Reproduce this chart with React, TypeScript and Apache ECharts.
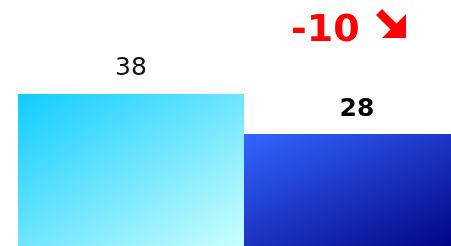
import React, { useEffect, useRef } from "react";
import * as echarts from "echarts";

const categories = ["Comparison"];
const previousValue = [38];
const currentValue = [28];
const changeText = "-10";

export default function App() {
  const ref = useRef<HTMLDivElement>(null);
  useEffect(() => {
    if (!ref.current) return;
    const chart = echarts.init(ref.current, undefined, { renderer: "svg" });
    chart.setOption({
      animation: false,
      grid: { left: 18, right: 0, top: 45.8, bottom: 3.5 },
      xAxis: { type: "category", data: categories, show: false },
      yAxis: { type: "value", min: 0, max: 50, show: false },
      graphic: [
        {
          type: "text",
          left: 291,
          top: 9,
          style: {
            text: changeText,
            fill: "#ff0000",
            font: "bold 38px 'DejaVu Sans'",
          },
        },
        {
          type: "polygon",
          shape: {
            points: [
              [382, 9],
              [396.5, 23.5],
              [406, 14],
              [406, 38],
              [382, 38],
              [390.5, 29.5],
              [376, 15],
            ],
          },
          style: { fill: "#ff0000" },
        },
      ],
      series: [
        {
          type: "bar",
          data: previousValue,
          barWidth: 226,
          barGap: 0,
          itemStyle: {
            color: new echarts.graphic.LinearGradient(0, 0, 1, 1, [
              { offset: 0, color: "#10ccff" },
              { offset: 1, color: "#ccffff" },
            ]),
          },
          label: {
            show: true,
            position: "top",
            distance: 14.5,
            color: "#111",
            fontSize: 25,
            fontFamily: "DejaVu Sans",
          },
        },
        {
          type: "bar",
          data: currentValue,
          barWidth: 226,
          barGap: 0,
          itemStyle: {
            color: new echarts.graphic.LinearGradient(0, 0, 1, 1, [
              { offset: 0, color: "#3366ff" },
              { offset: 1, color: "#000080" },
            ]),
          },
          label: {
            show: true,
            position: "top",
            distance: 14,
            color: "#000",
            fontSize: 25,
            fontWeight: "bold",
            fontFamily: "DejaVu Sans",
          },
        },
      ],
    });
    return () => chart.dispose();
  }, []);
  return (
    <div
      style={{
        position: "fixed",
        left: 0,
        top: 0,
        width: 451,
        height: 246,
        overflow: "hidden",
      }}
    >
      <div ref={ref} style={{ width: 470, height: 250 }} />
    </div>
  );
}
